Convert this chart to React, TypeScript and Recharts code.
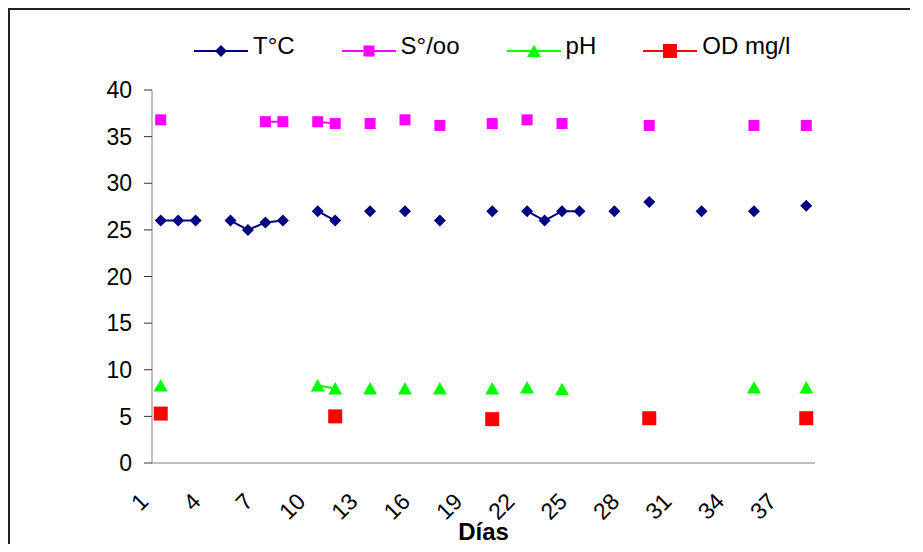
import React from 'react';
import { LineChart, Line, XAxis, YAxis } from 'recharts';

// días de muestreo (categorías del eje X)
const dias = [
  1, 2, 3, 4, 5, 6, 7, 8, 9, 10, 11, 12, 13, 14, 15, 16, 17, 18, 19,
  20, 21, 22, 23, 24, 25, 26, 27, 28, 29, 30, 31, 32, 33, 34, 35, 36, 37, 38,
];
const diasEtiqueta = [1, 4, 7, 10, 13, 16, 19, 22, 25, 28, 31, 34, 37];
const yTicks = [0, 5, 10, 15, 20, 25, 30, 35, 40];

const temperatura = [
  26, 26, 26, null, 26, 25, 25.8, 26, null, 27, 26, null, 27, null, 27, null, 26, null, null,
  27, null, 27, 26, 27, 27, null, 27, null, 28, null, null, 27, null, null, 27, null, null, 27.6,
];
const salinidad = [
  36.8, null, null, null, null, null, 36.6, 36.6, null, 36.6, 36.4, null, 36.4, null, 36.8, null, 36.2, null, null,
  36.4, null, 36.8, null, 36.4, null, null, null, null, 36.2, null, null, null, null, null, 36.2, null, null, 36.2,
];
const ph = [
  8.3, null, null, null, null, null, null, null, null, 8.3, 8.0, null, 8.0, null, 8.0, null, 8.0, null, null,
  8.0, null, 8.1, null, 7.9, null, null, null, null, null, null, null, null, null, null, 8.1, null, null, 8.1,
];
const oxigeno = [
  5.3, null, null, null, null, null, null, null, null, null, 5.0, null, null, null, null, null, null, null, null,
  4.7, null, null, null, null, null, null, null, null, 4.8, null, null, null, null, null, null, null, null, 4.8,
];

const data = dias.map((d, i) => ({
  day: d,
  temp: temperatura[i],
  sal: salinidad[i],
  ph: ph[i],
  od: oxigeno[i],
}));

// marcas del eje entre categorías
const limites = [dias[0] - 0.5, ...dias.map((d) => d + 0.5)];
const dominio = [limites[0], limites[limites.length - 1]];

const NAVY = '#000080';
const MAGENTA = '#FF00FF';
const LIME = '#00FF00';
const RED = '#FF0000';
const FONT = '"Liberation Sans", Arial, sans-serif';

function Diamond({ cx, cy, fill, r = 6 }: any) {
  return <path d={`M${cx},${cy - r}L${cx + r},${cy}L${cx},${cy + r}L${cx - r},${cy}Z`} fill={fill} />;
}
function Square({ cx, cy, fill, r }: any) {
  return <rect x={cx - r} y={cy - r} width={r * 2} height={r * 2} fill={fill} />;
}
function Triangle({ cx, cy, fill }: any) {
  return <path d={`M${cx},${cy - 6.5}L${cx + 7},${cy + 6}L${cx - 7},${cy + 6}Z`} fill={fill} />;
}

const dotFn = (kind: string, fill: string) => (p: any) => {
  const key = `${kind}-${p.index}`;
  if (p.cx == null || p.cy == null || p.value == null) return <g key={key} />;
  if (kind === 'diamond') return <Diamond key={key} cx={p.cx} cy={p.cy} fill={fill} />;
  if (kind === 'tri') return <Triangle key={key} cx={p.cx} cy={p.cy} fill={fill} />;
  if (kind === 'bigsq') return <Square key={key} cx={p.cx} cy={p.cy} fill={fill} r={7} />;
  return <Square key={key} cx={p.cx} cy={p.cy} fill={fill} r={5.5} />;
};

const series = [
  { key: 'temp', name: 'T°C', color: NAVY, marker: 'diamond' },
  { key: 'sal', name: 'S°/oo', color: MAGENTA, marker: 'sq' },
  { key: 'ph', name: 'pH', color: LIME, marker: 'tri' },
  { key: 'od', name: 'OD mg/l', color: RED, marker: 'bigsq' },
];

function XTick(props: any) {
  const { x, y, payload } = props;
  return (
    <g transform={`translate(${x - 11},${y + 39})`}>
      <text textAnchor="end" transform="rotate(-45)" fontSize={23} fill="#000" fontFamily={FONT}>
        {payload.value}
      </text>
    </g>
  );
}

function Leyenda() {
  return (
    <div
      style={{
        position: 'absolute',
        left: 184,
        top: 24,
        display: 'flex',
        gap: 47,
        fontSize: 24,
        lineHeight: '24px',
        fontFamily: FONT,
        color: '#000',
      }}
    >
      {series.map((s) => (
        <div key={s.key} style={{ display: 'flex', alignItems: 'center' }}>
          <svg width={54} height={24} style={{ marginRight: 5 }}>
            <line x1={0} x2={54} y1={17} y2={17} stroke={s.color} strokeWidth={2} />
            {s.marker === 'diamond' && <Diamond cx={27} cy={17} fill={s.color} />}
            {s.marker === 'sq' && <Square cx={27} cy={17} fill={s.color} r={5.5} />}
            {s.marker === 'tri' && <Triangle cx={27} cy={17} fill={s.color} />}
            {s.marker === 'bigsq' && <Square cx={27} cy={17} fill={s.color} r={7} />}
          </svg>
          <span>{s.name}</span>
        </div>
      ))}
    </div>
  );
}

export default function App() {
  return (
    <div
      style={{
        position: 'relative',
        width: 900,
        height: 534,
        borderLeft: '2px solid #222',
        borderTop: '2px solid #222',
        fontFamily: FONT,
      }}
    >
      <LineChart width={900} height={534} data={data} margin={{ top: 80, right: 95, bottom: 4, left: 0 }}>
        <XAxis
          xAxisId="dias"
          type="number"
          dataKey="day"
          domain={dominio}
          allowDataOverflow
          ticks={limites}
          interval={0}
          tick={false}
          tickSize={7}
          height={1}
          stroke="#808080"
          tickLine={{ stroke: '#333' }}
        />
        <XAxis
          xAxisId="etiquetas"
          type="number"
          dataKey="day"
          domain={dominio}
          allowDataOverflow
          ticks={diasEtiqueta}
          interval={0}
          axisLine={false}
          tickLine={false}
          tickSize={0}
          tickMargin={0}
          height={76}
          tick={<XTick />}
          label={{
            value: 'Días',
            position: 'insideBottom',
            offset: 0,
            style: { fontSize: 24, fontWeight: 'bold', fill: '#000', fontFamily: FONT },
          }}
        />
        <YAxis
          type="number"
          domain={[0, 40]}
          ticks={yTicks}
          interval={0}
          width={142}
          tickSize={8}
          tickMargin={12}
          stroke="#808080"
          tickLine={{ stroke: '#333' }}
          tick={{ fill: '#000', fontSize: 23, fontFamily: FONT }}
        />
        {series.map((s) => (
          <Line
            key={s.key}
            xAxisId="dias"
            type="linear"
            dataKey={s.key}
            name={s.name}
            stroke={s.color}
            strokeWidth={2}
            dot={dotFn(s.marker, s.color)}
            activeDot={false}
            connectNulls={false}
            isAnimationActive={false}
          />
        ))}
      </LineChart>
      <Leyenda />
    </div>
  );
}
